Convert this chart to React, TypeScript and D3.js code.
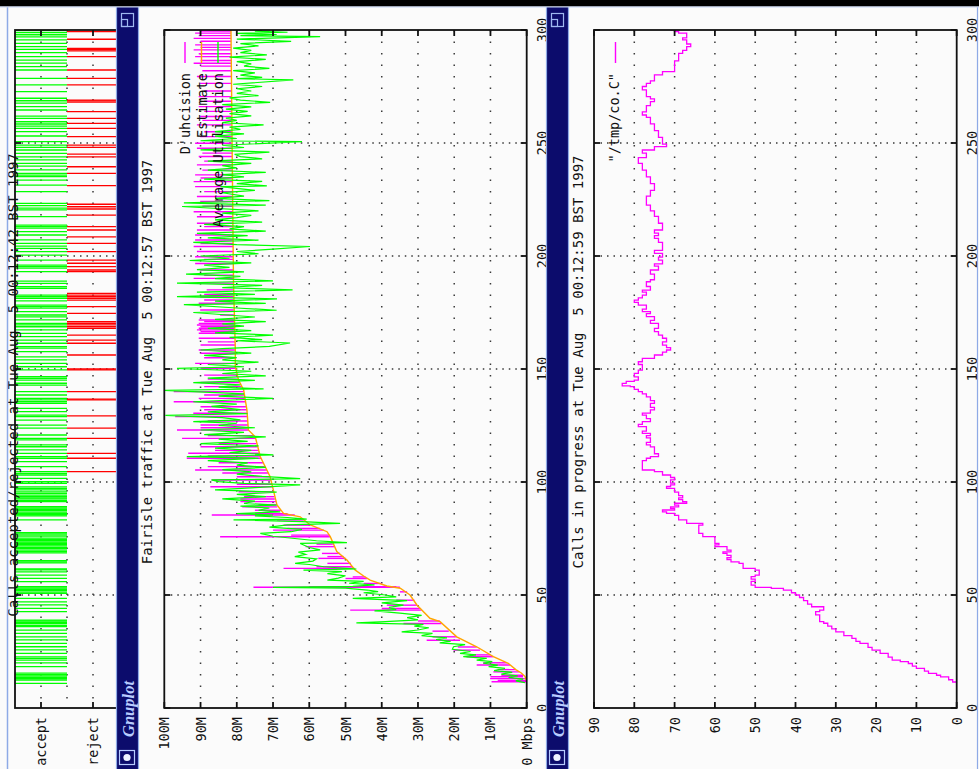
import React from "react";
import * as d3 from "d3";

// ---------- axis ticks ----------
const timeTicks = [0, 50, 100, 150, 200, 250, 300];
const bandwidthTicks = [0, 10, 20, 30, 40, 50, 60, 70, 80, 90, 100];
const bandwidthLabels = ["0 Mbps", "10M", "20M", "30M", "40M", "50M", "60M", "70M", "80M", "90M", "100M"];
const callTicks = [0, 10, 20, 30, 40, 50, 60, 70, 80, 90];
const decisionLevels = [1, 0, -1];
const decisionLabels = [
  { label: "accept", value: 1 },
  { label: "reject", value: -1 },
];

// ---------- titles / legends ----------
const titleDecisions = "Calls accepted/rejected at Tue Aug  5 00:12:42 BST 1997";
const titleTraffic = "Fairisle traffic at Tue Aug  5 00:12:57 BST 1997";
const titleCalls = "Calls in progress at Tue Aug  5 00:12:59 BST 1997";
const trafficLegend = ["D'uhcision", "Estimate", "Average Utilisation"];
const callsLegend = "\"/tmp/co.C\"";

// ---------- call admission events (seconds) ----------
const acceptTimes = [
  10.9, 12.4, 13.0, 13.6, 14.2, 14.8, 15.4, 18.3, 20.0, 21.2, 22.0, 22.6, 24.2, 25.7, 27.1, 28.6,
  30.1, 31.5, 33.0, 34.5, 36.0, 36.6, 37.3, 37.9, 38.5, 38.9, 42.6, 44.1, 45.6, 47.0, 48.5, 50.7,
  51.3, 51.9, 52.5, 53.1, 53.7, 55.9, 57.4, 58.8, 60.2, 61.1, 61.5, 64.2, 64.7, 65.2, 68.6, 69.2,
  69.9, 70.5, 71.1, 71.7, 72.3, 72.9, 73.4, 74.0, 74.6, 75.2, 76.1, 77.0, 77.6, 83.2, 85.0, 85.5,
  86.1, 86.7, 87.3, 87.9, 88.5, 89.1, 91.3, 91.9, 92.5, 93.0, 93.5, 94.2, 95.0, 95.6, 96.5, 97.2,
  97.8, 99.4, 100.1, 101.6, 103.1, 103.8, 104.6, 106.8, 109.0, 110.5, 111.2, 112.7, 114.2, 115.6,
  116.4, 118.6, 119.3, 120.8, 123.8, 125.2, 127.4, 128.9, 129.6, 131.1, 132.6, 134.8, 135.5, 136.3,
  137.0, 138.5, 140.0, 142.9, 143.7, 145.1, 145.9, 146.6, 149.6, 151.0, 152.5, 154.0, 155.4, 157.7,
  159.2, 159.9, 161.4, 162.8, 164.3, 165.8, 167.3, 168.7, 169.5, 170.2, 171.7, 173.1, 173.9, 175.4,
  176.9, 177.6, 178.3, 180.1, 181.3, 182.0, 182.7, 185.7, 186.4, 187.9, 188.9, 193.1, 194.6, 195.3,
  196.0, 198.2, 200.4, 201.9, 203.4, 204.4, 205.6, 207.1, 209.3, 210.8, 212.3, 213.0, 213.7, 217.4,
  220.4, 221.2, 222.3, 223.3, 228.5, 231.4, 233.6, 235.1, 235.8, 236.6, 238.1, 239.8, 241.0, 242.5,
  243.9, 245.4, 246.9, 248.1, 249.1, 250.6, 253.1, 255.0, 256.5, 257.5, 258.4, 259.4, 260.9, 261.9,
  264.6, 266.1, 267.6, 268.7, 269.8, 272.7, 275.7, 278.6, 282.3, 283.8, 285.3, 286.7, 288.2, 290.0,
  291.4, 292.6, 294.1, 295.6, 297.0, 297.9, 298.8, 299.7,
];
const rejectTimes = [
  104.6, 110.5, 112.7, 119.3, 123.8, 129.3, 136.3, 136.7, 140.0, 149.6, 150.0, 156.2, 161.4, 162.8,
  165.0, 168.0, 168.7, 169.5, 170.2, 170.9, 174.6, 177.6, 180.5, 181.3, 182.0, 182.7, 183.5, 193.1,
  193.8, 195.3, 196.8, 198.2, 201.9, 205.6, 208.5, 211.5, 213.0, 218.1, 220.8, 221.8, 222.9, 231.1,
  236.6, 239.5, 243.9, 245.1, 248.1, 249.1, 252.8, 256.5, 258.7, 260.9, 263.9, 268.1, 268.6, 269.0,
  275.7, 278.6, 282.3, 288.2, 290.8, 291.3, 291.9, 295.9, 299.3,
];

// ---------- traffic (time s, Mbps) ----------
const estimate: [number, number][] = [
  [12, 0], [14, 0.5], [15.5, 1.5], [17, 3], [19.8, 5.1], [22.7, 9.2], [27.1, 13.8], [31.5, 19.3],
  [38.2, 23.9], [39.7, 26.7], [45.6, 30.3], [50, 32.2], [53, 34.9], [54, 38.6], [56.6, 43.2],
  [58.4, 45], [61, 47.3], [65.5, 49.6], [69.2, 52.4], [75.8, 54.2], [78, 55.1], [81, 59.7],
  [84.6, 62.5], [86.1, 67.1], [89.8, 68.9], [102.3, 70.8], [111.2, 73.5], [120, 74.9], [123, 76.8],
  [131.9, 77.2], [140.7, 78.1], [145.1, 79.5], [151, 80.4], [158.4, 80.4], [187.9, 80.9],
  [202.7, 81.0], [300, 81.6],
];

const utilisation: [number, number][] = [
  [11.2, 0.5], [12, 3], [12.8, 1], [13.5, 5], [14.2, 2.5], [15, 7], [15.8, 4], [16.5, 9], [17.5, 6],
  [18.3, 10.5], [19, 8], [19.8, 12], [20.5, 9.5], [21.2, 13.8], [22, 11], [22.7, 17.5], [23.5, 14],
  [24.2, 18.4], [25, 15.5], [26, 20.5], [27.1, 20.2], [28, 17], [28.8, 24], [29.5, 21], [30.3, 25],
  [31, 22], [32, 29], [33, 26], [33.7, 34.5], [34.5, 30], [35.5, 27], [36.2, 31], [37, 28.5],
  [37.7, 47], [38.2, 39], [39, 30], [40, 33], [41, 29], [42, 35], [43, 42], [43.5, 36], [44.5, 38],
  [45.5, 34], [46.5, 40], [47.5, 33], [48.5, 48], [49.2, 36], [50, 39], [51, 45], [51.5, 41],
  [52.2, 44], [53, 50], [53.4, 70], [53.8, 48], [54.5, 42], [55.2, 49], [56, 45], [56.6, 55],
  [57.5, 52], [58.5, 50], [59.5, 55], [60.3, 51], [61, 61.6], [61.5, 47], [62.5, 56], [63.5, 60],
  [64, 63.9], [65, 59], [66, 58], [67, 64], [68, 61], [69, 63], [70, 57], [71, 60], [72.8, 62.5],
  [73.2, 49.6], [74, 58], [75, 64], [76, 70], [77.3, 73.5], [78, 65], [79, 62], [80, 71], [81, 66],
  [81.7, 51.5], [82.5, 62], [83.2, 80.9], [83.6, 60.7], [84.3, 66], [85, 75], [85.4, 70], [86, 80],
  [86.8, 68], [87.5, 74], [88.5, 71], [89.3, 79], [89.8, 69], [90.5, 78], [91.5, 75], [92.5, 84],
  [93.5, 72], [94.5, 80], [95.5, 69], [96.5, 86], [97.5, 75], [98.7, 62.5], [99.4, 78], [100.2, 85],
  [100.9, 87], [101.5, 62.5], [102.5, 73], [103.5, 80], [104.5, 76], [105.5, 84], [106.5, 72],
  [107.5, 80], [108.5, 77], [109.5, 88], [110.5, 74], [111.2, 93.8], [112, 69.9], [113, 82],
  [114, 76], [115, 86], [116, 74], [117, 90], [118, 77], [119, 85], [120, 72], [121, 89], [122, 78],
  [123, 90], [124, 75], [125, 85], [126, 80], [126.7, 92], [127.5, 79], [128.5, 84], [129.5, 99.7],
  [130.2, 77], [131, 88], [132, 79], [133.5, 87], [134.5, 80], [135.5, 92], [136.5, 78], [137, 70],
  [138, 85], [139, 78], [140.5, 100], [141.2, 72.6], [142, 85], [143, 79], [144, 92], [145, 75],
  [146, 88], [147, 72], [148, 84], [149, 76], [150.3, 96.5], [151, 78], [152, 88], [153, 74],
  [154, 84], [155, 80], [156, 89], [157, 76], [158.4, 90], [159, 84], [160, 71], [161.5, 65.3],
  [162.5, 80], [163, 73], [164, 82], [165, 70], [166, 86], [167, 76], [168, 88], [169, 78], [170, 84],
  [171, 72], [172, 86], [173, 75], [175, 92], [176, 69], [177, 80], [178.5, 94.6], [179, 72],
  [180, 86], [181, 68.9], [182, 96.5], [183, 75], [184, 91], [185, 64.6], [186, 84], [187, 73],
  [188, 96.5], [189, 70], [190, 86], [191, 79], [192, 94], [193, 78], [194, 91], [195, 82], [196, 89],
  [197, 76], [198, 93], [199, 82], [200, 90], [201, 74], [202, 80], [203, 70], [204.2, 59.8],
  [205, 80], [206, 92], [207, 74], [208, 88], [209, 77], [210, 91], [211, 72], [212, 82], [213, 78],
  [214, 89], [215, 73], [216, 86], [217, 80], [218, 76], [219, 84], [220, 74], [221.9, 95.1],
  [222.5, 72], [223.5, 94.6], [224.5, 71], [225.5, 86], [226.5, 78], [228, 84], [229, 75],
  [230.7, 84.5], [231, 71.7], [232, 80], [233, 73], [234, 89], [235, 78], [236, 84], [237, 72],
  [238, 88], [239, 80], [240, 84], [241, 76], [242, 88], [243, 73], [244, 79], [245, 80.6], [246, 71],
  [247, 90], [248, 78], [249, 84], [250.6, 62], [251, 90], [252, 80], [253, 86], [254, 78], [255, 86],
  [256, 79], [257, 82], [258, 72.6], [259, 84], [260, 80], [261, 83], [262, 76], [263, 82], [264, 77],
  [265, 83], [266, 76], [267, 84], [268, 70.8], [269, 79], [270, 82], [271, 74], [272, 80], [273, 76],
  [274, 80], [275, 73], [276, 81], [277.9, 64.4], [278.5, 80], [279, 73], [280, 79], [281, 75],
  [282, 81], [283, 71], [284, 78], [285, 76], [286, 80], [287, 72], [288, 82], [289, 71.7], [290, 79],
  [291, 76], [292, 81], [293, 74], [294, 79], [295, 65], [296, 80], [297.1, 57], [297.5, 79],
  [298, 69], [298.5, 80], [299, 66], [299.5, 75], [300, 73],
];

// admission decisions: [time, estimate at decision, estimate + requested rate]
const decisions: [number, number, number][] = [
  [11.6, 0, 9.7], [12.2, 0, 8], [13.0, 0.5, 10.1], [13.8, 1, 10], [14.5, 1, 7], [16, 2, 9.2],
  [17, 3, 8], [19, 4.6, 13.8], [20, 5.5, 12], [22.7, 9.2, 16.6], [23.5, 10, 15], [25.6, 12.9, 20.2],
  [27, 13.8, 19], [30, 18.4, 27.6], [31.5, 19.3, 26], [34, 21.5, 26], [37.4, 23.5, 34], [38.5, 24, 30],
  [43.3, 29, 48.7], [44, 29.5, 40], [45.5, 30.3, 38.6], [47.7, 31, 36], [51.4, 33, 35],
  [53.4, 35, 75.4], [53.7, 36, 60], [55.1, 40, 45], [57.3, 44, 50], [58, 44.5, 48], [61.8, 47.5, 67.1],
  [62.5, 48, 58], [64, 48.5, 55], [66.2, 50, 57.5], [67, 50.5, 55], [68.4, 51.5, 56.5], [71.4, 53, 61],
  [72.5, 53.5, 58], [75.8, 54.2, 84.6], [76.5, 54.5, 65], [78.7, 56, 70], [79.5, 57, 66],
  [80.9, 59.6, 67.1], [83.2, 61.5, 68.9], [85.4, 64, 86.9], [86, 66, 75], [87.5, 67.8, 75],
  [89, 68.8, 78.5], [90, 69, 74], [91.3, 69.2, 79], [92.5, 69.5, 79], [93.5, 69.6, 78],
  [95.7, 69.9, 79.5], [97.9, 70.2, 87.3], [99, 70.4, 80], [100.9, 70.6, 86.9], [102.3, 70.8, 80],
  [104, 71.3, 84], [105.3, 71.7, 91.5], [106.8, 72.1, 88], [108.5, 72.7, 85], [110.5, 73.3, 93.8],
  [111.5, 73.5, 88], [112.7, 73.8, 93.4], [114, 74.1, 86], [115.6, 74.4, 90], [117, 74.6, 85],
  [119.3, 74.9, 95.1], [120.5, 75.2, 88], [123, 76.8, 96.5], [124, 76.8, 90], [125.2, 76.9, 90],
  [127, 76.9, 88], [129, 77.1, 97], [130.4, 77.1, 92], [132, 77.2, 89], [133.3, 77.4, 90],
  [135.5, 77.6, 97.4], [137, 77.7, 90.5], [138.5, 77.9, 89], [140, 78.1, 97.4], [142.2, 78.6, 89],
  [144, 79.2, 90], [145.5, 79.6, 88], [147.3, 79.9, 89], [150.3, 80.4, 90], [152.5, 80.4, 91.5],
  [155, 80.4, 89], [157, 80.4, 90], [158.4, 80.4, 90.5], [160.6, 80.5, 90], [162, 80.5, 88],
  [163.6, 80.6, 90.5], [165.8, 80.6, 90.5], [166.6, 80.6, 90], [167.3, 80.6, 91], [168, 80.7, 90.5],
  [168.7, 80.7, 90], [169.5, 80.7, 91], [170.2, 80.7, 90.5], [171, 80.7, 89], [171.7, 80.7, 90.5],
  [173.9, 80.8, 84.6], [176.1, 80.8, 90.1], [179.1, 80.8, 90.5], [180.5, 80.8, 89], [182, 80.8, 90.1],
  [183, 80.9, 89], [185, 80.9, 88.3], [188, 80.9, 91], [190.1, 80.9, 91.9], [191.5, 80.9, 89],
  [193.8, 81, 90.1], [196.7, 81, 91.5], [198.5, 81, 89], [199.7, 81, 91.5], [202, 81, 91],
  [204.2, 81, 91.9], [205.5, 81, 90], [207.1, 81, 91.5], [209.3, 81, 91.5], [211.5, 81.1, 91],
  [213, 81.1, 89], [214.5, 81.1, 91], [217.4, 81.1, 91], [219.6, 81.1, 91.9], [222, 81.1, 89.5],
  [224.1, 81.1, 90.1], [226.3, 81.1, 91], [228.5, 81.2, 89], [230.7, 81.2, 91.5], [232.9, 81.2, 91.9],
  [234.5, 81.2, 90], [235.9, 81.2, 91.5], [238, 81.2, 89.5], [240.3, 81.3, 91], [242, 81.3, 89],
  [244, 81.3, 90.5], [245.5, 81.3, 89.5], [247.7, 81.3, 91], [249.9, 81.3, 91.5], [252.8, 81.3, 90.1],
  [255, 81.4, 89], [258, 81.4, 91], [260, 81.4, 89.5], [261.7, 81.4, 90.1], [264, 81.4, 89],
  [266.1, 81.4, 90.5], [268.5, 81.4, 89], [270.5, 81.5, 90.5], [273, 81.5, 89], [276.4, 81.5, 90.1],
  [279.4, 81.5, 91], [282, 81.5, 89.5], [284, 81.5, 90], [285.3, 81.5, 91.9], [286.5, 81.5, 90],
  [288.2, 81.5, 91.5], [289.5, 81.6, 90.5], [291.2, 81.6, 91.9], [292.3, 81.6, 90], [293.4, 81.6, 91.5],
  [295, 81.6, 90], [296.3, 81.6, 91.9], [297.5, 81.6, 90.5], [298.6, 81.6, 91.5], [299.5, 81.6, 90],
];

// ---------- calls in progress (time s, calls) ----------
const callsInProgress: [number, number][] = [
  [10.9, 0], [11.5, 1], [12.5, 2], [13.8, 4], [14.5, 5], [15.3, 7], [16.3, 8], [17.5, 10], [18.5, 11],
  [19.7, 12], [20.5, 14], [21.2, 16], [22.5, 17], [24.2, 19], [25.6, 21], [26.8, 22], [28.6, 24],
  [29.5, 25], [30.8, 26], [32, 28], [33.7, 30], [35, 31], [36.2, 32], [37.5, 33], [38.2, 34],
  [40, 34], [41.2, 35], [42.6, 34], [43.3, 33], [44.8, 36], [46, 37], [47.5, 38], [48.9, 39],
  [50, 40], [51, 41], [52.2, 43], [52.9, 46], [53.4, 50], [54.4, 51], [56, 50], [57, 51], [58.1, 50],
  [58.8, 49], [60.3, 49], [61, 50], [61.8, 53], [64, 54], [64.7, 56], [65.7, 57], [66.5, 56],
  [67.5, 57], [68.4, 58], [69.1, 56], [69.9, 57], [71.4, 60], [72.2, 59], [72.8, 60], [75, 60],
  [75.8, 63], [77.3, 64], [78.5, 64], [80.2, 64], [80.9, 63], [81.7, 67], [83.2, 69], [84.6, 69],
  [85.2, 70], [86.1, 72], [86.8, 73], [87.6, 70], [88.3, 71], [89, 69], [89.8, 70], [90.6, 67],
  [91.3, 68], [92.2, 69], [93, 68], [94, 69], [95.5, 70], [96.4, 70], [97.2, 72], [98, 71], [98.7, 70],
  [99.5, 71], [100.9, 70], [102, 71], [103.1, 73], [104.6, 75], [105.3, 78], [106.5, 78], [108.2, 78],
  [109.5, 77], [110.5, 76], [111.2, 74], [112.5, 75], [114.2, 75], [115.5, 76], [116.4, 77],
  [117.5, 76], [118.6, 76], [119.5, 77], [120.5, 76], [121.5, 78], [122.5, 77], [124.5, 79],
  [125.5, 78], [126.7, 76], [128, 77], [129.6, 78], [130.5, 76], [131.9, 75], [133, 76], [134.8, 75],
  [136, 76], [137.7, 77], [139, 78], [140, 79], [141, 80], [142.2, 81], [142.5, 83], [143.6, 82],
  [144.5, 80], [145.1, 79], [146.5, 80], [148.1, 79], [149.5, 78], [151, 78], [152, 79], [153.2, 78],
  [154.7, 75], [156.2, 73], [157.5, 72], [158.4, 71], [159.5, 72], [160.6, 73], [162, 72], [163.6, 73],
  [165, 74], [166.5, 75], [168, 74], [170.2, 76], [171.5, 75], [173.2, 77], [174.5, 76], [175.4, 78],
  [176.5, 77], [178.3, 79], [179.5, 80], [180.5, 79], [181.5, 78], [182.7, 77], [184, 78], [184.9, 76],
  [186.5, 77], [188.6, 76], [189.5, 75], [190.8, 75], [192, 76], [193.8, 74], [195.5, 75], [196.5, 73],
  [198.2, 74], [199.5, 73], [201.2, 75], [202.5, 73], [204.9, 73], [206, 74], [207.8, 75], [209, 74],
  [210.1, 75], [211.5, 73], [213, 73], [214.5, 74], [216, 74], [217.5, 75], [218.9, 75], [220, 76],
  [221.1, 76], [222.5, 77], [224.8, 77], [226.5, 76], [227.8, 76], [229, 75], [230.7, 75], [232, 76],
  [233.7, 76], [235, 77], [236.6, 77], [238, 78], [239.6, 78], [241, 79], [242.5, 79], [243.5, 77],
  [244.7, 77], [245.5, 78], [246.9, 75], [248.4, 72], [249.5, 73], [251.4, 73], [252.5, 74],
  [254.3, 74], [255.5, 75], [257.3, 75], [258.5, 76], [260.2, 76], [261.3, 77], [262.4, 78],
  [263.8, 77], [265.4, 77], [266.5, 76], [268.3, 75], [269.5, 76], [270.5, 77], [272, 77], [273.5, 78],
  [275, 77], [276.4, 76], [277.5, 75], [278.6, 75], [280.1, 73], [281.6, 70], [283, 70], [284.5, 70],
  [286.3, 69], [288.2, 69], [289.7, 68], [291, 67], [292.6, 66], [293.8, 67], [295.6, 68], [296.5, 67],
  [297.8, 67], [298.6, 69], [299.3, 70], [300, 71],
];

// ---------- geometry ----------
const W = 979;
const H = 769;
const TOP = 30;
const BOTTOM = 708;
const MONO = "'DejaVu Sans Mono', 'Liberation Mono', monospace";
const NAVY = "#0c0c6c";
const EDGE = "#8eaae6";
const PAPER = "#fbfbfb";
const INK = "#111";
const GRID = "#3a3a3a";

const tY = d3.scaleLinear().domain([0, 300]).range([BOTTOM, TOP]);
const arX = d3.scaleLinear().domain([2, -2]).range([15, 119]);
const bwX = d3.scaleLinear().domain([0, 100]).range([526.7, 164.3]);
const callX = d3.scaleLinear().domain([0, 90]).range([956.7, 594]);

type VProps = {
  x: number;
  y: number;
  anchor: "start" | "middle" | "end";
  size?: number;
  fill?: string;
  children: React.ReactNode;
};

// text that reads bottom-to-top
function VText({ x, y, anchor, size = 13.5, fill = INK, children }: VProps) {
  return (
    <text
      transform={`translate(${x},${y}) rotate(-90)`}
      textAnchor={anchor}
      dominantBaseline="central"
      fontFamily={MONO}
      fontSize={size}
      fill={fill}
      style={{ whiteSpace: "pre" }}
    >
      {children}
    </text>
  );
}

// window title bar (vertical strip)
function TitleBar({ x }: { x: number }) {
  return (
    <g>
      <rect x={x} y={7} width={23} height={H - 7} fill={NAVY} />
      <line x1={x + 0.5} x2={x + 0.5} y1={7} y2={H} stroke={EDGE} strokeWidth={1.2} />
      <line x1={x + 22.5} x2={x + 22.5} y1={7} y2={H} stroke={EDGE} strokeWidth={1.2} />
      <rect x={x + 5.5} y={13.5} width={12} height={13} fill="none" stroke="#9fb8f0" strokeWidth={1.2} />
      <rect x={x + 5.5} y={19.5} width={6} height={7} fill="none" stroke="#9fb8f0" strokeWidth={1.2} />
      <text
        transform={`translate(${x + 12},${709}) rotate(-90)`}
        textAnchor="middle"
        dominantBaseline="central"
        fontFamily="'Liberation Serif', 'DejaVu Serif', serif"
        fontStyle="italic"
        fontWeight="bold"
        fontSize={16.5}
        fill="#b8ccff"
      >
        Gnuplot
      </text>
      <rect x={x + 3.5} y={750.5} width={15} height={14} fill="none" stroke="#b8ccff" strokeWidth={1.2} />
      <circle cx={x + 11} cy={757.5} r={3.6} fill="#eef3ff" />
    </g>
  );
}

export default function App() {
  const trafficLine = d3
    .line<[number, number]>()
    .x((d) => bwX(d[1]))
    .y((d) => tY(d[0]));
  const callsLine = d3
    .line<[number, number]>()
    .x((d) => callX(d[1]))
    .y((d) => tY(d[0]))
    .curve(d3.curveStepBefore);

  const innerTimes = timeTicks.filter((t) => t > 0 && t < 300);
  const innerBw = bandwidthTicks.filter((v) => v > 0 && v < 100);
  const innerCalls = callTicks.filter((v) => v > 0 && v < 90);

  return (
    <svg
      width={W}
      height={H}
      viewBox={`0 0 ${W} ${H}`}
      style={{ position: "absolute", left: 0, top: 0, background: PAPER }}
    >
      <defs>
        <clipPath id="leftWin">
          <rect x={8} y={8} width={108} height={H - 8} />
        </clipPath>
        <clipPath id="trafficPlot">
          <rect x={bwX(100)} y={TOP} width={bwX(0) - bwX(100)} height={BOTTOM - TOP} />
        </clipPath>
        <clipPath id="callsPlot">
          <rect x={callX(90)} y={TOP} width={callX(0) - callX(90)} height={BOTTOM - TOP} />
        </clipPath>
      </defs>

      {/* ---------------- accept / reject window ---------------- */}
      <rect x={0} y={0} width={116} height={H} fill={PAPER} />
      <g clipPath="url(#leftWin)">
        {decisionLevels.map((v) => (
          <line key={`ag${v}`} x1={arX(v)} x2={arX(v)} y1={TOP} y2={BOTTOM} stroke={GRID}
            strokeWidth={1.5} strokeDasharray="1.5 10" />
        ))}
        {innerTimes.map((t) => (
          <line key={`at${t}`} x1={arX(2)} x2={arX(-2)} y1={tY(t)} y2={tY(t)} stroke={GRID}
            strokeWidth={1.5} strokeDasharray="1.5 5" />
        ))}
        {acceptTimes.map((t, i) => (
          <line key={`acc${i}`} x1={arX(2)} x2={arX(0)} y1={tY(t)} y2={tY(t)} stroke="#00ff00" strokeWidth={1.3} />
        ))}
        {rejectTimes.map((t, i) => (
          <line key={`rej${i}`} x1={arX(0)} x2={arX(-2)} y1={tY(t)} y2={tY(t)} stroke="#ff0000" strokeWidth={1.3} />
        ))}
        <rect x={arX(2)} y={TOP} width={arX(-2) - arX(2)} height={BOTTOM - TOP} fill="none" stroke={INK} strokeWidth={1.8} />
        {decisionLabels.map((d) => (
          <g key={d.label}>
            <line x1={arX(d.value)} x2={arX(d.value)} y1={BOTTOM} y2={BOTTOM - 6} stroke={INK} strokeWidth={1.8} />
            <line x1={arX(d.value)} x2={arX(d.value)} y1={TOP} y2={TOP + 6} stroke={INK} strokeWidth={1.8} />
            <VText x={arX(d.value)} y={717} anchor="end">{d.label}</VText>
          </g>
        ))}
        {innerTimes.map((t) => (
          <line key={`atk${t}`} x1={arX(2)} x2={arX(2) + 6} y1={tY(t)} y2={tY(t)} stroke={INK} strokeWidth={1.8} />
        ))}
        <VText x={13} y={385} anchor="middle" size={14}>{titleDecisions}</VText>
      </g>
      <line x1={7.5} x2={7.5} y1={7} y2={H} stroke={EDGE} strokeWidth={1.5} />

      {/* ---------------- traffic window ---------------- */}
      <rect x={139} y={7} width={407} height={H - 7} fill={PAPER} />
      <TitleBar x={116} />
      {innerBw.map((v) => (
        <line key={`bg${v}`} x1={bwX(v)} x2={bwX(v)} y1={TOP} y2={BOTTOM} stroke={GRID}
          strokeWidth={1.5} strokeDasharray="1.5 10" />
      ))}
      {innerTimes.map((t) => (
        <line key={`tg${t}`} x1={bwX(100)} x2={bwX(0)} y1={tY(t)} y2={tY(t)} stroke={GRID}
          strokeWidth={1.5} strokeDasharray="1.5 5" />
      ))}
      <g clipPath="url(#trafficPlot)">
        {decisions.map(([t, base, peak], i) => (
          <line key={`dec${i}`} x1={bwX(base)} x2={bwX(peak)} y1={tY(t)} y2={tY(t)} stroke="#ff00ff" strokeWidth={1.4} />
        ))}
        <path d={trafficLine(estimate) ?? ""} fill="none" stroke="#ffa500" strokeWidth={1.4} />
        <path d={trafficLine(utilisation) ?? ""} fill="none" stroke="#00ff00" strokeWidth={1.2} />
      </g>
      <rect x={bwX(100)} y={TOP} width={bwX(0) - bwX(100)} height={BOTTOM - TOP} fill="none" stroke={INK} strokeWidth={1.8} />
      {bandwidthTicks.map((v, i) => (
        <g key={`bt${v}`}>
          <line x1={bwX(v)} x2={bwX(v)} y1={BOTTOM} y2={BOTTOM - 6} stroke={INK} strokeWidth={1.8} />
          <line x1={bwX(v)} x2={bwX(v)} y1={TOP} y2={TOP + 6} stroke={INK} strokeWidth={1.8} />
          <VText x={bwX(v)} y={717} anchor="end">{bandwidthLabels[i]}</VText>
        </g>
      ))}
      {timeTicks.map((t) => (
        <g key={`tt${t}`}>
          <line x1={bwX(100)} x2={bwX(100) + 6} y1={tY(t)} y2={tY(t)} stroke={INK} strokeWidth={1.8} />
          <line x1={bwX(0)} x2={bwX(0) - 6} y1={tY(t)} y2={tY(t)} stroke={INK} strokeWidth={1.8} />
          <VText x={542} y={tY(t)} anchor="middle">{String(t)}</VText>
        </g>
      ))}
      <VText x={147} y={362} anchor="middle" size={14}>{titleTraffic}</VText>
      {trafficLegend.map((label, i) => {
        const cx = 185 + 16.5 * i;
        const colour = ["#ff00ff", "#ffa500", "#00ff00"][i];
        return (
          <g key={label}>
            <VText x={cx} y={73} anchor="end">{label}</VText>
            <line x1={cx} x2={cx} y1={42} y2={63} stroke={colour} strokeWidth={1.4} />
          </g>
        );
      })}

      {/* ---------------- calls in progress window ---------------- */}
      <rect x={569} y={7} width={W - 569} height={H - 7} fill={PAPER} />
      <TitleBar x={546} />
      {innerCalls.map((v) => (
        <line key={`cg${v}`} x1={callX(v)} x2={callX(v)} y1={TOP} y2={BOTTOM} stroke={GRID}
          strokeWidth={1.5} strokeDasharray="1.5 10" />
      ))}
      {innerTimes.map((t) => (
        <line key={`ctg${t}`} x1={callX(90)} x2={callX(0)} y1={tY(t)} y2={tY(t)} stroke={GRID}
          strokeWidth={1.5} strokeDasharray="1.5 5" />
      ))}
      <g clipPath="url(#callsPlot)">
        <path d={callsLine(callsInProgress) ?? ""} fill="none" stroke="#ff00ff" strokeWidth={1.3} />
      </g>
      <rect x={callX(90)} y={TOP} width={callX(0) - callX(90)} height={BOTTOM - TOP} fill="none" stroke={INK} strokeWidth={1.8} />
      {callTicks.map((v) => (
        <g key={`ct${v}`}>
          <line x1={callX(v)} x2={callX(v)} y1={BOTTOM} y2={BOTTOM - 6} stroke={INK} strokeWidth={1.8} />
          <line x1={callX(v)} x2={callX(v)} y1={TOP} y2={TOP + 6} stroke={INK} strokeWidth={1.8} />
          <VText x={callX(v)} y={717} anchor="end">{String(v)}</VText>
        </g>
      ))}
      {timeTicks.map((t) => (
        <g key={`ctt${t}`}>
          <line x1={callX(90)} x2={callX(90) + 6} y1={tY(t)} y2={tY(t)} stroke={INK} strokeWidth={1.8} />
          <line x1={callX(0)} x2={callX(0) - 6} y1={tY(t)} y2={tY(t)} stroke={INK} strokeWidth={1.8} />
          <VText x={972} y={tY(t)} anchor="middle">{String(t)}</VText>
        </g>
      ))}
      <VText x={578} y={362} anchor="middle" size={14}>{titleCalls}</VText>
      <VText x={614} y={73} anchor="end">{callsLegend}</VText>
      <line x1={615.5} x2={615.5} y1={42} y2={63} stroke="#ff00ff" strokeWidth={1.4} />
      <line x1={W - 1.5} x2={W - 1.5} y1={7} y2={H} stroke={EDGE} strokeWidth={1.2} />

      {/* screen top edge */}
      <rect x={0} y={0} width={W} height={6.5} fill="#000" />
      <line x1={0} x2={W} y1={7} y2={7} stroke="#c8d6f6" strokeWidth={1.2} />
    </svg>
  );
}
